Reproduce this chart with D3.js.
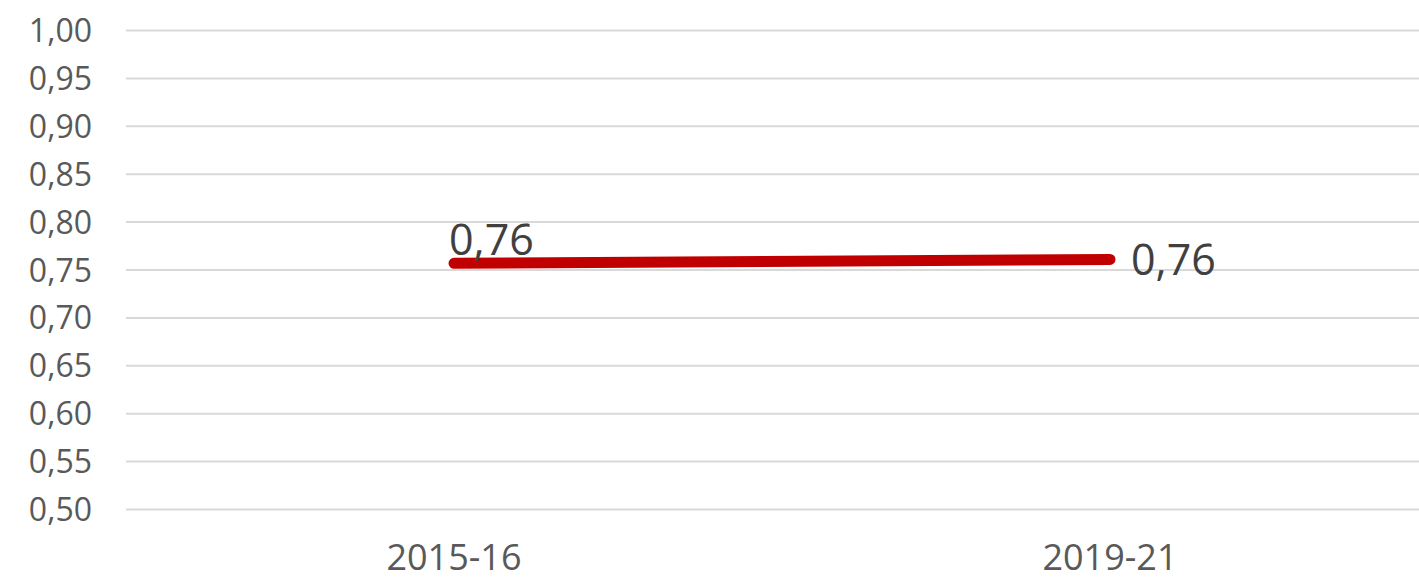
<!DOCTYPE html>
<html>
<head>
<meta charset="utf-8">
<script src="https://cdn.jsdelivr.net/npm/d3@7"></script>
<style>
  body { margin: 0; background: #fff; }
  svg { display: block; font-family: "Open Sans", "Liberation Sans", sans-serif; }
</style>
</head>
<body>
<svg id="chart" width="1419" height="577"></svg>
<script>
var categories = ["2015-16", "2019-21"];
var values = [0.757, 0.761];
var labels = ["0,76", "0,76"];
var yTicks = [0.50, 0.55, 0.60, 0.65, 0.70, 0.75, 0.80, 0.85, 0.90, 0.95, 1.00];

var width = 1419, height = 577;
var svg = d3.select("#chart");

var x = d3.scalePoint()
  .domain(categories)
  .range([126, 1438])
  .padding(0.5);

var y = d3.scaleLinear()
  .domain([0.5, 1.0])
  .range([509.5, 30.5]);

var fmt = function(d) { return d3.format(".2f")(d).replace(".", ","); };

// gridlines
svg.append("g")
  .selectAll("line")
  .data(yTicks)
  .enter().append("line")
  .attr("x1", 126)
  .attr("x2", width)
  .attr("y1", function(d) { return y(d); })
  .attr("y2", function(d) { return y(d); })
  .style("stroke", "#d9d9d9")
  .style("stroke-width", 2);

// y axis labels
svg.append("g")
  .selectAll("text")
  .data(yTicks)
  .enter().append("text")
  .attr("x", 92)
  .attr("y", function(d) { return y(d); })
  .attr("dy", "0.36em")
  .attr("text-anchor", "end")
  .style("font-size", "32px")
  .style("fill", "#595959")
  .text(fmt);

// category labels (reference sits right at the bottom edge)
svg.append("g")
  .selectAll("text")
  .data(categories)
  .enter().append("text")
  .attr("x", function(d) { return x(d); })
  .attr("y", 570)
  .attr("text-anchor", "middle")
  .style("font-size", "36px")
  .style("fill", "#595959")
  .text(function(d) { return d; });

// line
var line = d3.line()
  .x(function(d, i) { return x(categories[i]); })
  .y(function(d) { return y(d); });

svg.append("path")
  .datum(values)
  .attr("d", line)
  .style("fill", "none")
  .style("stroke", "#c00000")
  .style("stroke-width", 11)
  .style("stroke-linecap", "round");

// data labels
var lx = [-5, 21];
var ly = [-8, 16];
svg.append("g")
  .selectAll("text")
  .data(values)
  .enter().append("text")
  .attr("x", function(d, i) { return x(categories[i]) + lx[i]; })
  .attr("y", function(d, i) { return y(d) + ly[i]; })
  .attr("text-anchor", "start")
  .style("font-size", "43px")
  .style("fill", "#404040")
  .text(function(d, i) { return labels[i]; });
</script>
</body>
</html>
